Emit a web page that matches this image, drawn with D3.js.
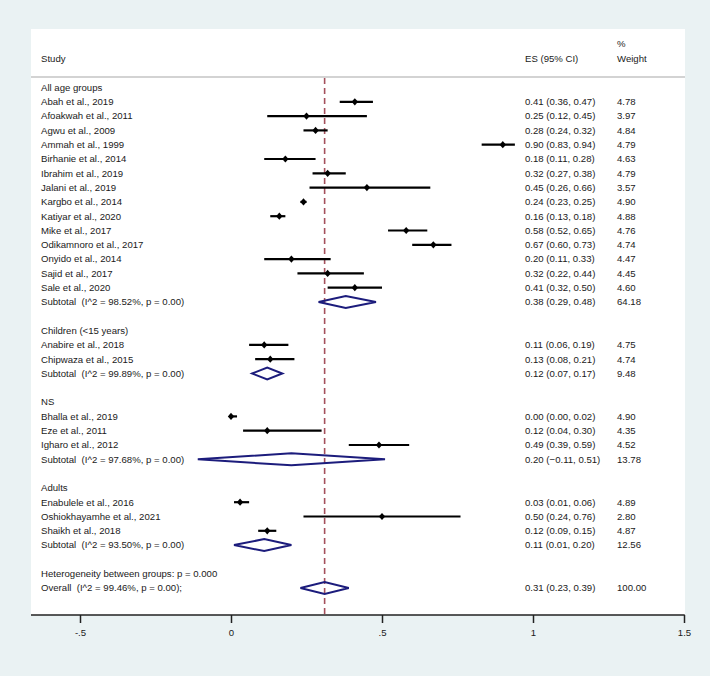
<!DOCTYPE html>
<html>
<head>
<meta charset="utf-8">
<script src="https://cdn.jsdelivr.net/npm/d3@7"></script>
<style>
	body { margin: 0; background: #eaf2f3; }
	text { font-family: "Liberation Sans", Arial, Helvetica, sans-serif; font-size: 9.6px; fill: #1a1a1a; white-space: pre; }
</style>
</head>
<body>
<svg id="chart" width="710" height="676"></svg>
<script>
'use strict';

var groupNames = ['All age groups', 'Children (<15 years)', 'NS', 'Adults'];

var studyNames = [
	'Abah et al., 2019', 'Afoakwah et al., 2011', 'Agwu et al., 2009', 'Ammah et al., 1999',
	'Birhanie et al., 2014', 'Ibrahim et al., 2019', 'Jalani et al., 2019', 'Kargbo et al., 2014',
	'Katiyar et al., 2020', 'Mike et al., 2017', 'Odikamnoro et al., 2017', 'Onyido et al., 2014',
	'Sajid et al., 2017', 'Sale et al., 2020',
	'Anabire et al., 2018', 'Chipwaza et al., 2015',
	'Bhalla et al., 2019', 'Eze et al., 2011', 'Igharo et al., 2012',
	'Enabulele et al., 2016', 'Oshiokhayamhe et al., 2021', 'Shaikh et al., 2018'
];
var studyGroup = [0, 0, 0, 0, 0, 0, 0, 0, 0, 0, 0, 0, 0, 0, 1, 1, 2, 2, 2, 3, 3, 3];
var studyES = [0.41, 0.25, 0.28, 0.90, 0.18, 0.32, 0.45, 0.24, 0.16, 0.58, 0.67, 0.20, 0.32, 0.41, 0.11, 0.13, 0.00, 0.12, 0.49, 0.03, 0.50, 0.12];
var studyLo = [0.36, 0.12, 0.24, 0.83, 0.11, 0.27, 0.26, 0.23, 0.13, 0.52, 0.60, 0.11, 0.22, 0.32, 0.06, 0.08, 0.00, 0.04, 0.39, 0.01, 0.24, 0.09];
var studyHi = [0.47, 0.45, 0.32, 0.94, 0.28, 0.38, 0.66, 0.25, 0.18, 0.65, 0.73, 0.33, 0.44, 0.50, 0.19, 0.21, 0.02, 0.30, 0.59, 0.06, 0.76, 0.15];
var studyWeight = [4.78, 3.97, 4.84, 4.79, 4.63, 4.79, 3.57, 4.90, 4.88, 4.76, 4.74, 4.47, 4.45, 4.60, 4.75, 4.74, 4.90, 4.35, 4.52, 4.89, 2.80, 4.87];

var subtotalLabels = ['Subtotal  (I^2 = 98.52%, p = 0.00)', 'Subtotal  (I^2 = 99.89%, p = 0.00)', 'Subtotal  (I^2 = 97.68%, p = 0.00)', 'Subtotal  (I^2 = 93.50%, p = 0.00)'];
var subtotalES = [0.38, 0.12, 0.20, 0.11];
var subtotalLo = [0.29, 0.07, -0.11, 0.01];
var subtotalHi = [0.48, 0.17, 0.51, 0.20];
var subtotalWeight = [64.18, 9.48, 13.78, 12.56];

var heterogeneityLabel = 'Heterogeneity between groups: p = 0.000';
var overallLabel = 'Overall  (I^2 = 99.46%, p = 0.00);';
var overallES = [0.31, 0.23, 0.39, 100.00];

var axisTicks = [-0.5, 0, 0.5, 1, 1.5];
var axisTickLabels = ['-.5', '0', '.5', '1', '1.5'];

// build the row list: header, studies, subtotal, blank per group
var rows = [];
groupNames.forEach(function (g, gi) {
	rows.push({type: 'group', label: g});
	studyNames.forEach(function (s, i) {
		if (studyGroup[i] === gi) {
			rows.push({type: 'study', label: s, es: studyES[i], lo: studyLo[i], hi: studyHi[i], w: studyWeight[i]});
		}
	});
	rows.push({type: 'sub', label: subtotalLabels[gi], es: subtotalES[gi], lo: subtotalLo[gi], hi: subtotalHi[gi], w: subtotalWeight[gi]});
	rows.push({type: 'blank'});
});
rows.push({type: 'group', label: heterogeneityLabel});
rows.push({type: 'sub', label: overallLabel, es: overallES[0], lo: overallES[1], hi: overallES[2], w: overallES[3]});

var svg = d3.select('#chart');
var panel = {left: 31, right: 685, top: 29, bottom: 615};
var sepY = 77;
var colES = 525, colW = 617, colLabel = 41;

var x = d3.scaleLinear().domain([-0.5, 1.5]).range([80, 684]);
var y = d3.scaleLinear().domain([0, 1]).range([87.5, 101.8]);
var f2 = d3.format('.2f');

svg.append('rect')
	.attr('x', panel.left).attr('y', panel.top)
	.attr('width', panel.right - panel.left).attr('height', panel.bottom - panel.top)
	.attr('fill', '#ffffff');

// header
svg.append('text').attr('x', colLabel).attr('y', 58.7).attr('dy', '0.35em').text('Study');
svg.append('text').attr('x', colES).attr('y', 58.7).attr('dy', '0.35em').text('ES (95% CI)');
svg.append('text').attr('x', colW).attr('y', 44).attr('dy', '0.35em').text('%');
svg.append('text').attr('x', colW).attr('y', 58.7).attr('dy', '0.35em').text('Weight');

svg.append('line')
	.attr('x1', panel.left).attr('x2', panel.right)
	.attr('y1', sepY).attr('y2', sepY)
	.attr('stroke', '#c4c4c4').attr('stroke-width', 1.5);

// overall effect reference line
svg.append('line')
	.attr('x1', x(overallES[0])).attr('x2', x(overallES[0]))
	.attr('y1', sepY + 1).attr('y2', panel.bottom)
	.attr('stroke', '#a4505c').attr('stroke-width', 1.6)
	.attr('stroke-dasharray', '6,4');

var rowG = svg.selectAll('g.row')
	.data(rows)
	.enter().append('g')
	.attr('class', 'row')
	.attr('transform', function (d, i) { return 'translate(0,' + y(i) + ')'; });

rowG.filter(function (d) { return d.type !== 'blank'; })
	.append('text')
	.attr('x', colLabel).attr('dy', '0.35em')
	.text(function (d) { return d.label; });

var valueRows = rowG.filter(function (d) { return d.type === 'study' || d.type === 'sub'; });
valueRows.append('text')
	.attr('x', colES).attr('dy', '0.35em')
	.text(function (d) { return f2(d.es) + ' (' + f2(d.lo) + ', ' + f2(d.hi) + ')'; });
valueRows.append('text')
	.attr('x', colW).attr('dy', '0.35em')
	.text(function (d) { return f2(d.w); });

var studyRows = rowG.filter(function (d) { return d.type === 'study'; });
studyRows.append('line')
	.attr('x1', function (d) { return x(d.lo); })
	.attr('x2', function (d) { return x(d.hi); })
	.attr('stroke', '#000').attr('stroke-width', 2.2);
studyRows.append('path')
	.attr('d', function (d) {
		var cx = x(d.es);
		return 'M' + (cx - 3.2) + ',0L' + cx + ',-3.6L' + (cx + 3.2) + ',0L' + cx + ',3.6Z';
	})
	.attr('fill', '#000');

rowG.filter(function (d) { return d.type === 'sub'; })
	.append('path')
	.attr('d', function (d) {
		return 'M' + x(d.lo) + ',0L' + x(d.es) + ',-6L' + x(d.hi) + ',0L' + x(d.es) + ',6Z';
	})
	.attr('fill', 'none')
	.attr('stroke', '#1c1c7c').attr('stroke-width', 2);

// axis
var axis = svg.append('g')
	.attr('transform', 'translate(0,' + panel.bottom + ')')
	.call(d3.axisBottom(x)
		.tickValues(axisTicks)
		.tickFormat(function (d, i) { return axisTickLabels[i]; })
		.tickSize(8)
		.tickPadding(6.5));
axis.select('.domain').remove();
axis.selectAll('.tick line').attr('stroke', '#222').attr('stroke-width', 1.5);
axis.selectAll('.tick text').attr('fill', '#1a1a1a').style('font-size', '9.6px')
	.style('font-family', '"Liberation Sans", Arial, sans-serif');
axis.append('line')
	.attr('x1', panel.left).attr('x2', x(1.5) + 0.75)
	.attr('stroke', '#222').attr('stroke-width', 1.5);
</script>
</body>
</html>
